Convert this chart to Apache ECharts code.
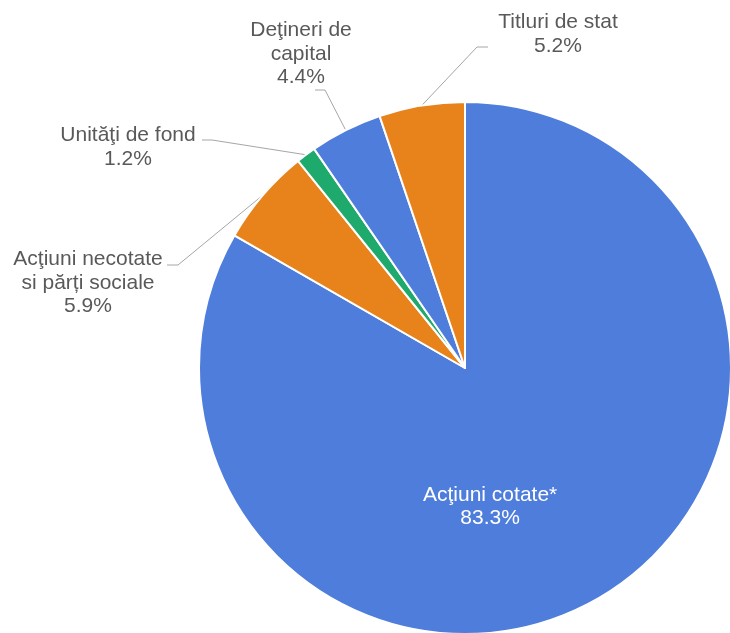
<!DOCTYPE html>
<html>
<head>
<meta charset="utf-8">
<script src="https://cdn.jsdelivr.net/npm/echarts@6/dist/echarts.min.js"></script>
<style>
  html, body { margin: 0; padding: 0; background: #fff; }
  #chart-wrapper { width: 730px; height: 633px; }
</style>
</head>
<body>
<div id="chart-wrapper"></div>
<script>
const categories = [
  'Acţiuni cotate*',
  'Acţiuni necotate\nsi părți sociale',
  'Unităţi de fond',
  'Deţineri de\ncapital',
  'Titluri de stat'
]
const shares = [83.3, 5.9, 1.2, 4.4, 5.2]
const colors = ['#4e7ddb', '#e8831c', '#1eaa6c', '#4e7ddb', '#e8831c']

// where the outside labels sit (label centre, leader bend, leader end)
const labelSpots = [
  null,
  { x: 88, y: 283, bend: [178, 265], end: [167, 265] },
  { x: 128, y: 147, bend: [212, 140], end: [202, 140] },
  { x: 301, y: 54, bend: [325, 90], end: [315, 90] },
  { x: 558, y: 34, bend: [477, 47], end: [488, 47] }
]

const chartDom = document.getElementById('chart-wrapper')
const chart = echarts.init(chartDom)

const data = categories.map((name, i) => ({
  name,
  value: shares[i],
  itemStyle: { color: colors[i] }
}))
// the big slice keeps its label inside, in white
data[0].label = {
  position: 'inside',
  color: '#ffffff',
  offset: [-43, 21]
}
data[0].labelLine = { show: false }

const option = {
  backgroundColor: '#ffffff',
  animation: false,
  series: [
    {
      type: 'pie',
      center: [465, 368],
      radius: 266,
      startAngle: 90,
      clockwise: true,
      avoidLabelOverlap: false,
      data,
      itemStyle: {
        borderColor: '#ffffff',
        borderWidth: 2
      },
      label: {
        show: true,
        formatter: p => `${p.name}\n${p.value.toFixed(1)}%`,
        fontFamily: 'Liberation Sans, Arial, sans-serif',
        fontSize: 21,
        lineHeight: 23.5,
        color: '#595959',
        align: 'center'
      },
      labelLine: {
        show: true,
        length: 30,
        length2: 10,
        lineStyle: { color: '#a6a6a6', width: 1 }
      },
      labelLayout: params => {
        const spot = labelSpots[params.dataIndex]
        if (!spot || !params.labelLinePoints) return {}
        return {
          x: spot.x,
          y: spot.y,
          align: 'center',
          verticalAlign: 'middle',
          labelLinePoints: [params.labelLinePoints[0], spot.bend, spot.end]
        }
      }
    }
  ]
}
chart.setOption(option)
</script>
</body>
</html>
